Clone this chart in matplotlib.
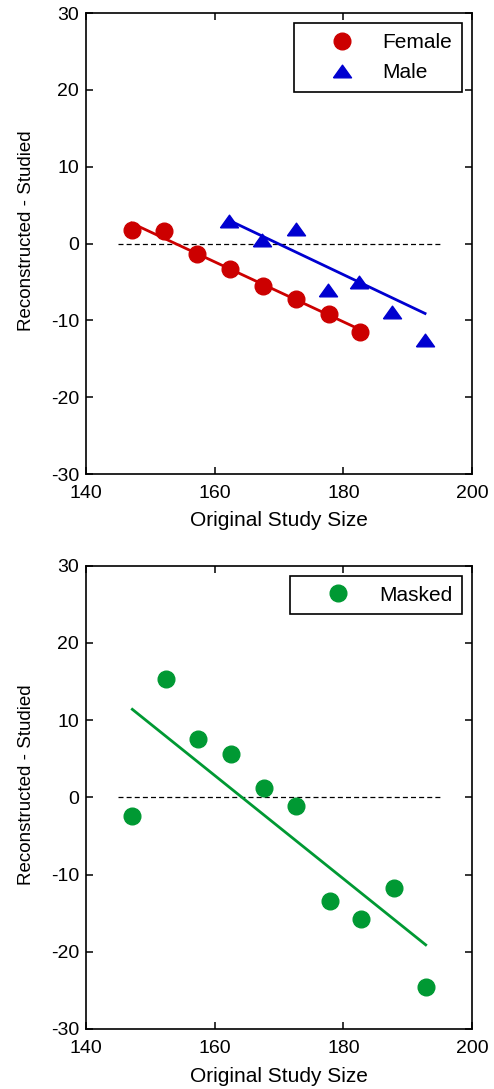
import matplotlib
matplotlib.use('Agg')
import matplotlib.pyplot as plt
import numpy as np

plt.rcParams['font.family'] = ['Liberation Sans', 'DejaVu Sans']
plt.rcParams['axes.unicode_minus'] = False

# data
female_x = [147.1, 152.2, 157.3, 162.4, 167.5, 172.7, 177.7, 182.6]
female_y = [1.8, 1.6, -1.3, -3.3, -5.5, -7.2, -9.2, -11.5]
male_x = [162.3, 167.4, 172.6, 177.6, 182.5, 187.6, 192.7]
male_y = [3.0, 0.4, 1.9, -6.1, -5.0, -8.9, -12.5]
masked_x = [147.2, 152.4, 157.4, 162.5, 167.6, 172.7, 177.9, 182.7, 187.8, 192.9]
masked_y = [-2.4, 15.3, 7.6, 5.6, 1.2, -1.1, -13.4, -15.7, -11.8, -24.5]

# fitted lines (end points)
female_fit_x = [147.1, 182.6]
female_fit_y = [2.65, -11.2]
male_fit_x = [162.3, 192.7]
male_fit_y = [3.0, -9.1]
masked_fit_x = [147.2, 192.8]
masked_fit_y = [11.4, -19.1]

ref_x = [145, 195]
ref_y = [0, 0]

red = '#cc0000'
blue = '#0000d0'
green = '#009933'

# flat triangle like the matlab one
tri = [(-1, -0.7), (1, -0.7), (0, 0.7), (-1, -0.7)]

fig = plt.figure(figsize=(4.94, 10.89), dpi=100)
ax1 = fig.add_axes([0.1741, 0.5647, 0.7814, 0.4233])
ax2 = fig.add_axes([0.1741, 0.0551, 0.7814, 0.4254])


def style(ax):
    ax.set_xlim(140, 200)
    ax.set_ylim(-30, 30)
    ax.set_xticks([140, 160, 180, 200])
    ax.set_yticks([-30, -20, -10, 0, 10, 20, 30])
    ax.tick_params(direction='in', top=True, right=True, length=5, width=1.1,
                   labelsize=14)
    ax.tick_params(axis='y', pad=5)
    ax.tick_params(axis='x', pad=8)
    for s in ax.spines.values():
        s.set_linewidth(1.2)
    ax.set_xlabel('Original Study Size', fontsize=15)
    ax.set_ylabel('Reconstructed - Studied', fontsize=13.5)
    ax.xaxis.set_label_coords(0.5, -0.081)
    ax.yaxis.set_label_coords(-0.131, 0.528)


def legend(ax):
    leg = ax.legend(loc='upper right', fontsize=15, frameon=True, fancybox=False,
                    edgecolor='black', framealpha=1, handlelength=3.7,
                    handletextpad=0.1, borderpad=0.45, labelspacing=0.55,
                    borderaxespad=0.5)
    leg.get_frame().set_linewidth(1.2)


# top panel
ax1.plot(ref_x, ref_y, color='black', lw=0.9, ls=(0, (4, 2.5)))
ax1.plot(female_fit_x, female_fit_y, color=red, lw=2)
ax1.plot(male_fit_x, male_fit_y, color=blue, lw=2)
ax1.plot(female_x, female_y, 'o', color=red, ms=12, label='Female')
ax1.plot(male_x, male_y, ls='none', marker=tri, color=blue, ms=13, label='Male')
style(ax1)
legend(ax1)

# bottom panel
ax2.plot(ref_x, ref_y, color='black', lw=0.9, ls=(0, (4, 2.5)))
ax2.plot(masked_fit_x, masked_fit_y, color=green, lw=2)
ax2.plot(masked_x, masked_y, 'o', color=green, ms=12, label='Masked')
style(ax2)
legend(ax2)

fig.savefig('out.png', dpi=100)
